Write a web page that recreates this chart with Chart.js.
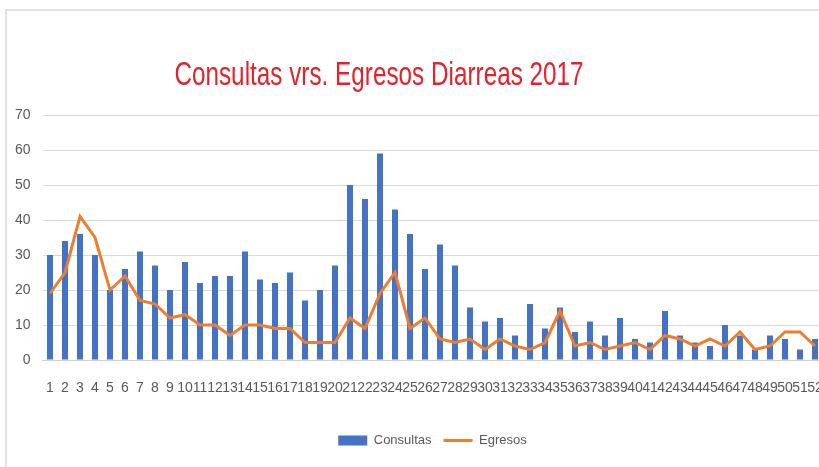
<!DOCTYPE html>
<html>
<head>
<meta charset="utf-8">
<script src="https://cdn.jsdelivr.net/npm/chart.js@4.4.0/dist/chart.umd.min.js"></script>
<style>
  html, body { margin: 0; padding: 0; background: #fff; overflow: hidden; }
  #frame { position: absolute; left: 5px; top: 9px; width: 900px; height: 500px;
           border-left: 2px solid #e2e2e2; border-top: 2px solid #e2e2e2; }
  #chart { position: absolute; left: 0; top: 0; }
</style>
</head>
<body>
<div id="frame"></div>
<canvas id="chart" width="840" height="467"></canvas>
<script>
// semanas epidemiologicas 1..52
const semanas = [];
for (let i = 1; i <= 52; i++) semanas.push(String(i));

const consultas = [30, 34, 36, 30, 20, 26, 31, 27, 20, 28, 22, 24, 24, 31, 23, 22,
  25, 17, 20, 27, 50, 46, 59, 43, 36, 26, 33, 27, 15, 11, 12, 7, 16, 9,
  15, 8, 11, 7, 12, 6, 5, 14, 7, 5, 4, 10, 7, 3, 7, 6, 3, 6];

const egresos = [19, 25, 41, 35, 20, 24, 17, 16, 12, 13, 10, 10, 7, 10, 10, 9,
  9, 5, 5, 5, 12, 9, 19, 25, 9, 12, 6, 5, 6, 3, 6, 4, 3, 5,
  14, 4, 5, 3, 4, 5, 3, 7, 6, 4, 6, 4, 8, 3, 4, 8, 8, 4];

const yTicks = [0, 10, 20, 30, 40, 50, 60, 70];

const FONT = '"Liberation Sans", Arial, sans-serif';
const GREY = "#595959";

// title drawn at its own spot (off-centre in the original), squeezed like Calibri
const titlePlugin = {
  id: "tituloLibre",
  afterDraw(chart) {
    const ctx = chart.ctx;
    ctx.save();
    ctx.translate(379, 85);
    ctx.scale(0.81, 1.13);
    ctx.font = "30px " + FONT;
    ctx.fillStyle = "#e2232b";
    ctx.textAlign = "center";
    ctx.textBaseline = "alphabetic";
    ctx.fillText("Consultas vrs. Egresos Diarreas 2017", 0, 0);
    ctx.restore();
  },
};

new Chart(document.getElementById("chart"), {
  type: "bar",
  data: {
    labels: semanas,
    datasets: [
      {
        type: "bar",
        label: "Consultas",
        data: consultas,
        backgroundColor: "#4472c4",
        borderColor: "#4472c4",
        borderWidth: 0,
        barPercentage: 0.4,
        categoryPercentage: 1,
        pointStyle: "rect",
        order: 2,
      },
      {
        type: "line",
        label: "Egresos",
        data: egresos,
        borderColor: "#ed7d31",
        backgroundColor: "#ed7d31",
        borderWidth: 3,
        pointRadius: 0,
        pointStyle: "line",
        tension: 0,
        order: 1,
      },
    ],
  },
  plugins: [titlePlugin],
  options: {
    responsive: false,
    animation: false,
    devicePixelRatio: 1,
    layout: { padding: { top: 115, left: 8, right: 17.5, bottom: 10 } },
    plugins: {
      title: { display: false },
      tooltip: { enabled: false },
      legend: {
        position: "bottom",
        fullSize: false,
        labels: {
          usePointStyle: true,
          pointStyleWidth: 29,
          boxHeight: 10,
          padding: 12,
          color: GREY,
          font: { family: FONT, size: 13 },
          sort: (a, b) => a.datasetIndex - b.datasetIndex,
        },
      },
    },
    scales: {
      x: {
        grid: { display: false },
        border: { display: true, color: "#d0d0d0", width: 1 },
        ticks: {
          autoSkip: false,
          maxRotation: 0,
          minRotation: 0,
          padding: 12,
          color: GREY,
          font: { family: FONT, size: 14 },
        },
        afterFit(scale) { scale.height = 62; },
      },
      y: {
        min: yTicks[0],
        max: yTicks[yTicks.length - 1],
        ticks: {
          stepSize: 10,
          padding: 12,
          color: GREY,
          font: { family: FONT, size: 14 },
        },
        grid: { color: "#d9d9d9", lineWidth: 1, drawTicks: false },
        border: { display: false },
        afterFit(scale) { scale.width = 34.5; },
      },
    },
  },
});
</script>
</body>
</html>
